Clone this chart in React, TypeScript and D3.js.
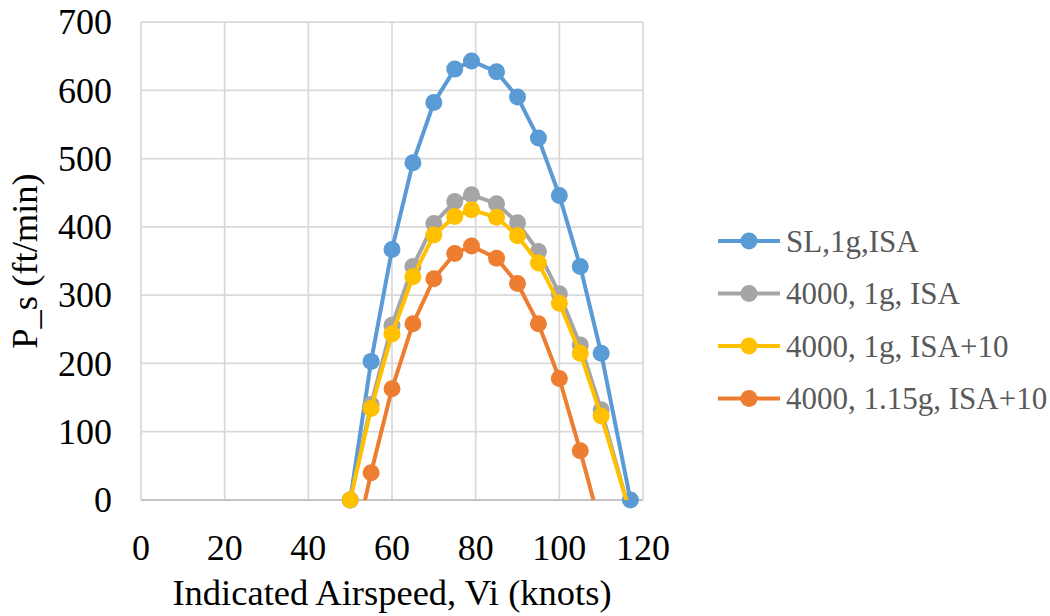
import React, { useEffect, useRef } from 'react';
import * as d3 from 'd3';

// Indicated airspeed (knots)
const speeds = [50, 55, 60, 65, 70, 75, 79, 85, 90, 95, 100, 105, 110, 117];

// Specific excess power P_s (ft/min)
const slIsa = [0, 203, 367, 494, 582, 631, 643, 627, 590, 530, 446, 342, 215, 0];
const alt4000Isa = [0, 140, 256, 342, 405, 437, 447, 434, 406, 364, 302, 227, 132, -22];
const alt4000Isa10 = [0, 134, 243, 327, 388, 415, 425, 414, 387, 347, 288, 215, 123, -20];
const alt4000Load115 = [-100, 40, 163, 258, 324, 361, 372, 354, 317, 258, 178, 72, -42, null];

const seriesNames = ['SL,1g,ISA', '4000, 1g, ISA', '4000, 1g, ISA+10', '4000, 1.15g, ISA+10'];
const seriesValues = [slIsa, alt4000Isa, alt4000Isa10, alt4000Load115];
const seriesColors = ['#5B9BD5', '#A5A5A5', '#FFC000', '#ED7D31'];

const xTicks = [0, 20, 40, 60, 80, 100, 120];
const yTicks = [0, 100, 200, 300, 400, 500, 600, 700];

export default function App() {
  const ref = useRef<SVGSVGElement | null>(null);

  useEffect(() => {
    document.body.style.margin = '0';
    const W = 1050;
    const H = 616;
    const left = 141, right = 643, top = 22, bottom = 500;
    const svg = d3.select(ref.current as SVGSVGElement);
    svg.selectAll('*').remove();
    svg.attr('width', W).attr('height', H);

    const x = d3.scaleLinear().domain([0, 120]).range([left, right]);
    const y = d3.scaleLinear().domain([0, 700]).range([bottom, top]);

    svg.append('rect').attr('width', W).attr('height', H).attr('fill', '#fff');
    svg
      .append('defs')
      .append('clipPath')
      .attr('id', 'plotClip')
      .append('rect')
      .attr('x', left)
      .attr('y', top)
      .attr('width', right - left)
      .attr('height', bottom - top);

    const grid = svg.append('g');
    yTicks.forEach((t) => {
      grid.append('line').attr('x1', left).attr('x2', right).attr('y1', y(t)).attr('y2', y(t))
        .attr('stroke', '#d9d9d9').attr('stroke-width', 1.75);
    });
    xTicks.forEach((t) => {
      grid.append('line').attr('x1', x(t)).attr('x2', x(t)).attr('y1', top).attr('y2', bottom)
        .attr('stroke', '#d9d9d9').attr('stroke-width', 1.75);
    });
    grid.append('line').attr('x1', left).attr('x2', right).attr('y1', bottom).attr('y2', bottom)
      .attr('stroke', '#bfbfbf').attr('stroke-width', 1.75);

    const setFont = (sel: any, size: number) =>
      sel.style('font-family', 'Liberation Serif').attr('font-family', 'Liberation Serif').style('font-size', size + 'px');

    yTicks.forEach((t) => {
      setFont(
        svg.append('text').attr('x', 112).attr('y', y(t)).attr('dy', '0.34em').attr('text-anchor', 'end').attr('fill', '#000').text(String(t)),
        36
      );
    });
    xTicks.forEach((t) => {
      setFont(
        svg.append('text').attr('x', x(t)).attr('y', 560).attr('text-anchor', 'middle').attr('fill', '#000').text(String(t)),
        36
      );
    });

    setFont(
      svg.append('text').attr('transform', `translate(37, ${(top + bottom) / 2}) rotate(-90)`)
        .attr('text-anchor', 'middle').attr('fill', '#000').text('P_s (ft/min)'),
      36.5
    );
    setFont(
      svg.append('text').attr('x', (left + right) / 2).attr('y', 605)
        .attr('text-anchor', 'middle').attr('fill', '#000').text('Indicated Airspeed, Vi (knots)'),
      36.5
    );

    const line = d3
      .line<[number, number | null]>()
      .defined((d) => d[1] !== null && d[1] !== undefined)
      .x((d) => x(d[0]))
      .y((d) => y(d[1] as number));

    seriesValues.forEach((vals, i) => {
      const pts = speeds.map((s, j) => [s, vals[j] === undefined ? null : vals[j]] as [number, number | null]);
      const g = svg.append('g');
      g.append('path').attr('d', line(pts) || '').attr('fill', 'none').attr('stroke', seriesColors[i])
        .attr('stroke-width', 4).attr('stroke-linejoin', 'round').attr('clip-path', 'url(#plotClip)');
      g.selectAll('circle')
        .data(pts.filter((p) => p[1] !== null && (p[1] as number) >= 0 && (p[1] as number) <= 700))
        .enter()
        .append('circle')
        .attr('cx', (p) => x(p[0]))
        .attr('cy', (p) => y(p[1] as number))
        .attr('r', 8.5)
        .attr('fill', seriesColors[i]);
    });

    const legendX = 718;
    const legendY0 = 241;
    const legendDy = 52.5;
    seriesNames.forEach((n, i) => {
      const ly = legendY0 + i * legendDy;
      const g = svg.append('g');
      g.append('line').attr('x1', legendX).attr('x2', legendX + 62).attr('y1', ly).attr('y2', ly)
        .attr('stroke', seriesColors[i]).attr('stroke-width', 4);
      g.append('circle').attr('cx', legendX + 31).attr('cy', ly).attr('r', 8.5).attr('fill', seriesColors[i]);
      setFont(
        g.append('text').attr('x', legendX + 68).attr('y', ly).attr('dy', '0.34em').attr('fill', '#595959').text(n),
        31
      );
    });
  }, []);

  return <svg ref={ref} width={1050} height={616} style={{ position: 'absolute', left: 0, top: 0, display: 'block' }} />;
}
